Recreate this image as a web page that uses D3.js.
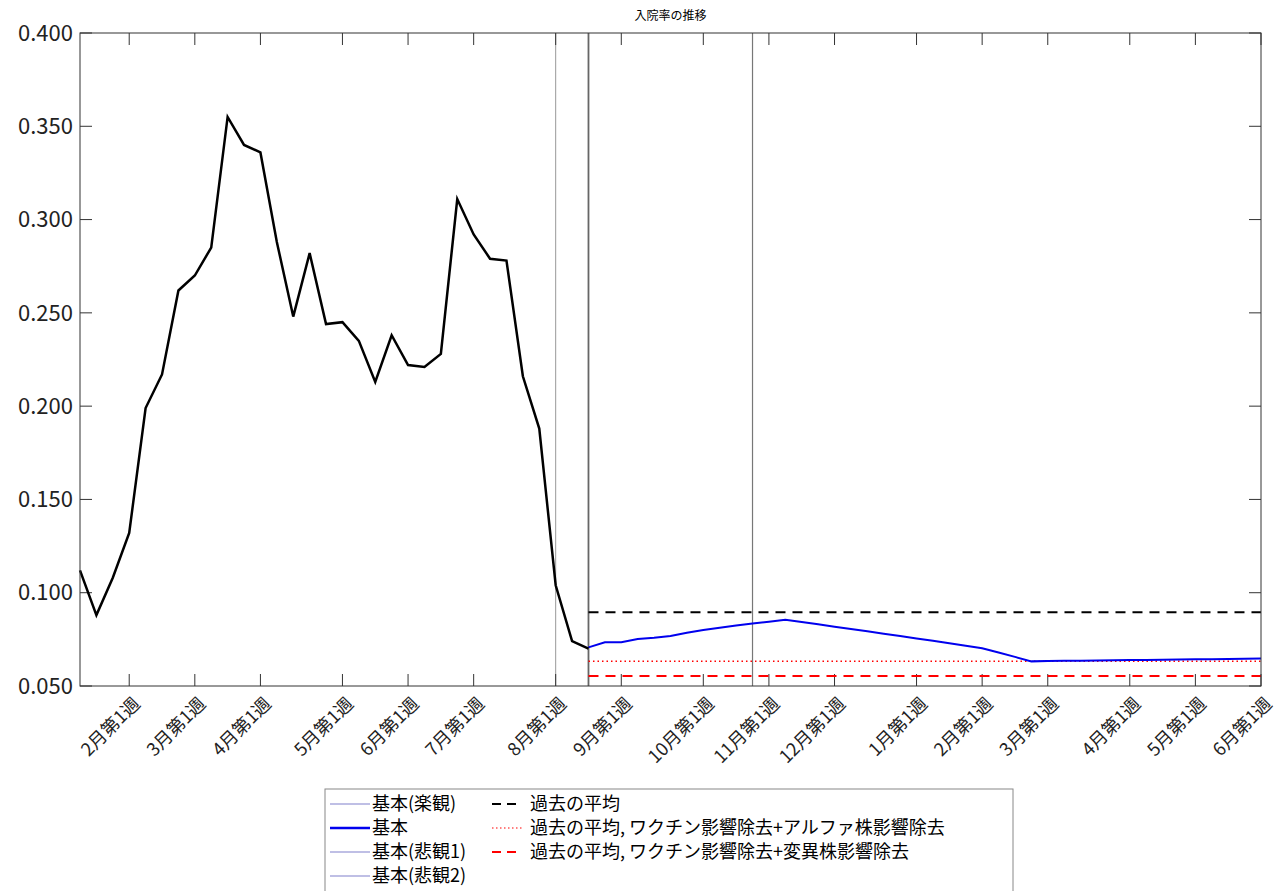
<!DOCTYPE html>
<html><head><meta charset="utf-8">
<script src="https://cdn.jsdelivr.net/npm/d3@7"></script>
<style>body{margin:0;background:#fff}text{font-family:"Noto Sans CJK JP","Noto Sans",sans-serif}</style>
</head><body><svg id="c" width="1275" height="891"></svg>
<script>
const actual = [0.112,0.088,0.108,0.132,0.199,0.217,0.262,0.270,0.285,0.355,0.340,0.336,0.288,0.248,0.282,0.244,0.245,0.235,0.213,0.238,0.222,0.221,0.228,0.311,0.292,0.279,0.278,0.216,0.188,0.104,0.074,0.070];
const actualStart = 0;
const base = [0.0707,0.0734,0.0734,0.0752,0.0759,0.0768,0.0785,0.0800,0.0812,0.0824,0.0835,0.0845,0.0855,0.0843,0.0831,0.0818,0.0806,0.0793,0.0780,0.0768,0.0755,0.0742,0.0729,0.0716,0.0702,0.0680,0.0656,0.0632,0.0634,0.0635,0.0636,0.0637,0.0638,0.0639,0.0640,0.0641,0.0642,0.0643,0.0644,0.0645,0.0646,0.0648];
const baseStart = 31;
const refLines = [{v:0.0895,color:"#000",dash:"10,7",w:2},{v:0.0632,color:"#f00",dash:"1.5,3",w:1.5},{v:0.0554,color:"#f00",dash:"10,7",w:2}];
const refStart = 31, weekEnd = 72;
const tickWeeks = [3,7,11,16,20,24,29,33,38,42,46,51,55,59,64,68,72];
const tickLabels = ["2月第1週","3月第1週","4月第1週","5月第1週","6月第1週","7月第1週","8月第1週","9月第1週","10月第1週","11月第1週","12月第1週","1月第1週","2月第1週","3月第1週","4月第1週","5月第1週","6月第1週"];
const yTicks = [0.05,0.1,0.15,0.2,0.25,0.3,0.35,0.4];
const vLines = [{w:29,c:"#999",sw:1},{w:31,c:"#666",sw:1.8},{w:41,c:"#777",sw:1.2}];

const svg = d3.select("#c");
const L=80,R=1261,T=33,B=686;
const x = d3.scaleLinear().domain([0,weekEnd]).range([L,R]);
const y = d3.scaleLinear().domain([0.05,0.4]).range([B,T]);

svg.append("text").attr("x",(L+R)/2).attr("y",20).attr("text-anchor","middle").attr("font-size",12).text("入院率の推移");

vLines.forEach(v=>svg.append("line").attr("x1",x(v.w)).attr("x2",x(v.w)).attr("y1",T).attr("y2",B).attr("stroke",v.c).attr("stroke-width",v.sw));

const ax = svg.append("g").attr("stroke","#333").attr("stroke-width",1);
yTicks.forEach(t=>{
  ax.append("line").attr("x1",L).attr("x2",L+12).attr("y1",y(t)).attr("y2",y(t));
  ax.append("line").attr("x1",R).attr("x2",R-12).attr("y1",y(t)).attr("y2",y(t));
  svg.append("text").attr("x",L-7).attr("y",y(t)).attr("dy","0.35em").attr("text-anchor","end").attr("font-size",22).attr("fill","#222").text(d3.format(".3f")(t));
});
tickWeeks.forEach((w,i)=>{
  ax.append("line").attr("x1",x(w)).attr("x2",x(w)).attr("y1",B).attr("y2",B-12);
  ax.append("line").attr("x1",x(w)).attr("x2",x(w)).attr("y1",T).attr("y2",T+12);
  svg.append("text").attr("transform",`translate(${x(w)+3},${B+10}) rotate(-45)`).attr("text-anchor","end").attr("dy","0.7em").attr("font-size",18).attr("fill","#222").text(tickLabels[i]);
});

refLines.forEach(r=>svg.append("line").attr("x1",x(refStart)).attr("x2",x(weekEnd)).attr("y1",y(r.v)).attr("y2",y(r.v)).attr("stroke",r.color).attr("stroke-width",r.w).attr("stroke-dasharray",r.dash));

const line = d3.line().x(d=>x(d[0])).y(d=>y(d[1]));
svg.append("path").attr("d",line(base.map((v,i)=>[baseStart+i,v]))).attr("fill","none").attr("stroke","#0000ee").attr("stroke-width",2);
svg.append("path").attr("d",line(actual.map((v,i)=>[actualStart+i,v]))).attr("fill","none").attr("stroke","#000").attr("stroke-width",2.5);

svg.append("rect").attr("x",L).attr("y",T).attr("width",R-L).attr("height",B-T).attr("fill","none").attr("stroke","#333").attr("stroke-width",1);

const lg = svg.append("g");
lg.append("rect").attr("x",325).attr("y",789).attr("width",688).attr("height",110).attr("fill","#fff").attr("stroke","#888");
const left = [["基本(楽観)","#aaaadd",1.5],["基本","#0000ee",2.5],["基本(悲観1)","#aaaadd",1.5],["基本(悲観2)","#aaaadd",1.5]];
left.forEach((d,i)=>{const yy=804+i*24;
  lg.append("line").attr("x1",330).attr("x2",370).attr("y1",yy).attr("y2",yy).attr("stroke",d[1]).attr("stroke-width",d[2]);
  lg.append("text").attr("x",372).attr("y",yy).attr("dy","0.35em").attr("font-size",18).text(d[0]);});
const right = [["過去の平均","#000","9,6"],["過去の平均, ワクチン影響除去+アルファ株影響除去","#f00","1.5,2.5"],["過去の平均, ワクチン影響除去+変異株影響除去","#f00","9,6"]];
right.forEach((d,i)=>{const yy=804+i*24;
  lg.append("line").attr("x1",492).attr("x2",522).attr("y1",yy).attr("y2",yy).attr("stroke",d[1]).attr("stroke-width",d[2].startsWith("1")?1.2:2).attr("stroke-dasharray",d[2]);
  lg.append("text").attr("x",530).attr("y",yy).attr("dy","0.35em").attr("font-size",18).attr("textLength",d[0].length>10?null:null).text(d[0]);});
</script></body></html>
